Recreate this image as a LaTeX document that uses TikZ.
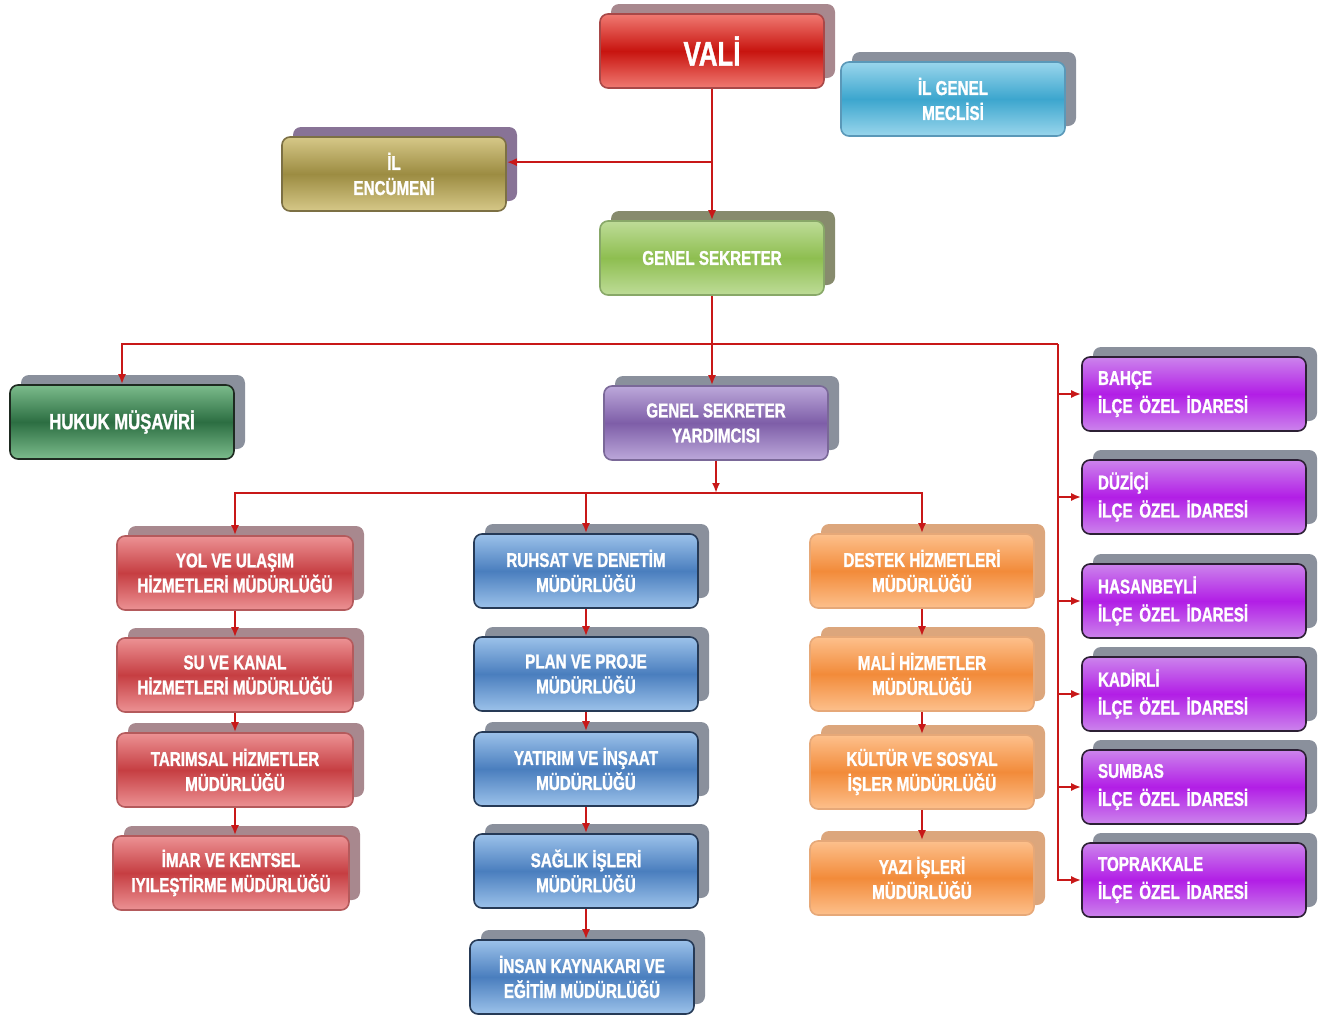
\documentclass[tikz,border=0pt]{standalone}
\usepackage{fontspec}
\setmainfont{Liberation Sans}[FakeStretch=0.76, BoldFeatures={FakeBold=1.2}]
\usetikzlibrary{arrows.meta,shadows}

\definecolor{valitop}{HTML}{F07A72}
\definecolor{valimid}{HTML}{C8140F}
\definecolor{valiedge}{HTML}{A84848}
\definecolor{meclistop}{HTML}{9AD6EC}
\definecolor{meclismid}{HTML}{3CA6CE}
\definecolor{meclisedge}{HTML}{5A98B8}
\definecolor{encumtop}{HTML}{D6C888}
\definecolor{encummid}{HTML}{9C8C42}
\definecolor{encumedge}{HTML}{7C7044}
\definecolor{sektop}{HTML}{BEDC98}
\definecolor{sekmid}{HTML}{8EBE50}
\definecolor{sekedge}{HTML}{88A868}
\definecolor{hukuktop}{HTML}{7CBC8C}
\definecolor{hukukmid}{HTML}{2C6E42}
\definecolor{hukukedge}{HTML}{1E2A20}
\definecolor{gsytop}{HTML}{BCA8DA}
\definecolor{gsymid}{HTML}{7E5EA8}
\definecolor{gsyedge}{HTML}{7A6898}
\definecolor{redtop}{HTML}{EC9294}
\definecolor{redmid}{HTML}{C63E42}
\definecolor{rededge}{HTML}{B45A5C}
\definecolor{bluetop}{HTML}{9CC2EA}
\definecolor{bluemid}{HTML}{4A7EBE}
\definecolor{blueedge}{HTML}{263A56}
\definecolor{orgtop}{HTML}{FDC08C}
\definecolor{orgmid}{HTML}{F28B3A}
\definecolor{orgedge}{HTML}{E6A878}
\definecolor{ilcetop}{HTML}{CC84EC}
\definecolor{ilcemid}{HTML}{B21EE6}
\definecolor{ilceedge}{HTML}{2C2034}
\definecolor{shadegray}{HTML}{8A909C}
\definecolor{shadered}{HTML}{A8888E}
\definecolor{shadeorg}{HTML}{DCA67C}
\definecolor{wirered}{HTML}{C81818}

\tikzset{
  unit/.style n args={4}{rounded corners=4pt, minimum width=112pt, minimum height=37pt,
    align=center, text=white, font=\bfseries\fontsize{10}{12.5}\selectfont,
    top color=#1, bottom color=#1, middle color=#2, draw=#3, line width=0.8pt,
    general shadow={fill=#4, shadow xshift=5.5pt, shadow yshift=5pt}},
  valibox/.style={unit={valitop}{valimid}{valiedge}{shadered}, font=\bfseries\fontsize{17}{20}\selectfont},
  meclisbox/.style={unit={meclistop}{meclismid}{meclisedge}{shadegray}},
  encumbox/.style={unit={encumtop}{encummid}{encumedge}{shadegray!80!violet}},
  sekbox/.style={unit={sektop}{sekmid}{sekedge}{shadegray!70!olive}},
  hukukbox/.style={unit={hukuktop}{hukukmid}{hukukedge}{shadegray}, font=\bfseries\fontsize{11}{13}\selectfont},
  gsybox/.style={unit={gsytop}{gsymid}{gsyedge}{shadegray}},
  redbox/.style={unit={redtop}{redmid}{rededge}{shadered}, minimum width=118pt},
  bluebox/.style={unit={bluetop}{bluemid}{blueedge}{shadegray}},
  orgbox/.style={unit={orgtop}{orgmid}{orgedge}{shadeorg}},
  ilcebox/.style={unit={ilcetop}{ilcemid}{ilceedge}{shadegray}, text width=96pt, inner xsep=8pt,
    align=left, font=\bfseries\fontsize{10}{14}\selectfont},
  wire/.style={draw=wirered, line width=1pt},
  arr/.style={wire, -{Latex[length=5pt,width=4pt]}}
}

\begin{document}
\begin{tikzpicture}[x=0.5pt, y=-0.5pt]
    \useasboundingbox (0,0) rectangle (1330,1019);

    \node[valibox] (vali) at (712,51) {VALİ};
    \node[meclisbox] (meclis) at (953,99) {İL GENEL\\MECLİSİ};
    \node[encumbox] (encumen) at (394,174) {İL\\ENCÜMENİ};
    \node[sekbox] (gensek) at (712,258) {GENEL SEKRETER};
    \node[hukukbox] (hukuk) at (122,422) {HUKUK MÜŞAVİRİ};
    \node[gsybox] (gsy) at (716,423) {GENEL SEKRETER\\YARDIMCISI};

    \node[redbox] (yol) at (235,573) {YOL VE ULAŞIM\\HİZMETLERİ MÜDÜRLÜĞÜ};
    \node[redbox] (su) at (235,675) {SU VE KANAL\\HİZMETLERİ MÜDÜRLÜĞÜ};
    \node[redbox] (tarim) at (235,770) {TARIMSAL HİZMETLER\\MÜDÜRLÜĞÜ};
    \node[redbox] (imar) at (231,873) {İMAR VE KENTSEL\\IYILEŞTİRME MÜDÜRLÜĞÜ};

    \node[bluebox] (ruhsat) at (586,571) {RUHSAT VE DENETİM\\MÜDÜRLÜĞÜ};
    \node[bluebox] (plan) at (586,674) {PLAN VE PROJE\\MÜDÜRLÜĞÜ};
    \node[bluebox] (yatirim) at (586,769) {YATIRIM VE İNŞAAT\\MÜDÜRLÜĞÜ};
    \node[bluebox] (saglik) at (586,871) {SAĞLIK İŞLERİ\\MÜDÜRLÜĞÜ};
    \node[bluebox] (insan) at (582,977) {İNSAN KAYNAKARI VE\\EĞİTİM MÜDÜRLÜĞÜ};

    \node[orgbox] (destek) at (922,571) {DESTEK HİZMETLERİ\\MÜDÜRLÜĞÜ};
    \node[orgbox] (mali) at (922,674) {MALİ HİZMETLER\\MÜDÜRLÜĞÜ};
    \node[orgbox] (kultur) at (922,772) {KÜLTÜR VE SOSYAL\\İŞLER MÜDÜRLÜĞÜ};
    \node[orgbox] (yazi) at (922,878) {YAZI İŞLERİ\\MÜDÜRLÜĞÜ};

    \node[ilcebox] (bahce) at (1194,394) {BAHÇE\\İLÇE ÖZEL İDARESİ};
    \node[ilcebox] (duzici) at (1194,497) {DÜZİÇİ\\İLÇE ÖZEL İDARESİ};
    \node[ilcebox] (hasanbeyli) at (1194,601) {HASANBEYLİ\\İLÇE ÖZEL İDARESİ};
    \node[ilcebox] (kadirli) at (1194,694) {KADİRLİ\\İLÇE ÖZEL İDARESİ};
    \node[ilcebox] (sumbas) at (1194,787) {SUMBAS\\İLÇE ÖZEL İDARESİ};
    \node[ilcebox] (toprakkale) at (1194,880) {TOPRAKKALE\\İLÇE ÖZEL İDARESİ};

    \coordinate (rbus) at (1058,344);
    \coordinate (sub) at (716,493);

    \draw[arr] (vali) -- (vali |- gensek.north);
    \draw[arr] (vali |- encumen.6) -- (encumen.6);
    \draw[arr] (gensek) -- (gensek |- gsy.north);
    \draw[arr] (rbus) -| (hukuk.north);

    \draw[arr] (rbus) |- (bahce.west);
    \draw[arr] (rbus) |- (duzici.west);
    \draw[arr] (rbus) |- (hasanbeyli.west);
    \draw[arr] (rbus) |- (kadirli.west);
    \draw[arr] (rbus) |- (sumbas.west);
    \draw[arr] (rbus) |- (toprakkale.west);

    \draw[arr] (gsy) -- (sub);
    \draw[arr] (sub) -| (yol.north);
    \draw[arr] (sub) -| (ruhsat.north);
    \draw[arr] (sub) -| (destek.north);

    \draw[arr] (yol) -- (yol |- su.north);
    \draw[arr] (su) -- (su |- tarim.north);
    \draw[arr] (tarim) -- (tarim |- imar.north);

    \draw[arr] (ruhsat) -- (ruhsat |- plan.north);
    \draw[arr] (plan) -- (plan |- yatirim.north);
    \draw[arr] (yatirim) -- (yatirim |- saglik.north);
    \draw[arr] (saglik) -- (saglik |- insan.north);

    \draw[arr] (destek) -- (destek |- mali.north);
    \draw[arr] (mali) -- (mali |- kultur.north);
    \draw[arr] (kultur) -- (kultur |- yazi.north);
\end{tikzpicture}
\end{document}
